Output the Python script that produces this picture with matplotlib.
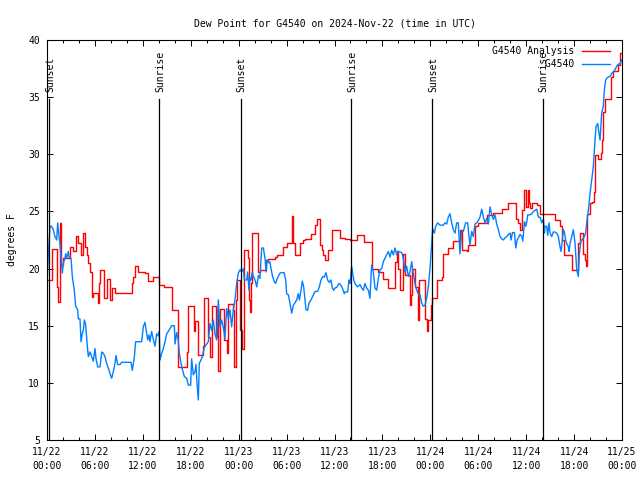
import matplotlib
matplotlib.use("Agg")
import matplotlib.pyplot as plt
import numpy as np

# hours since 2024-11-22 00:00 UTC
red_hours = [0.1, 0.58, 1.21, 1.42, 1.63, 1.75, 2.05, 2.88, 3.30, 3.59, 3.92, 4.26, 4.55, 4.76,
             4.97, 5.18, 5.38, 5.59, 5.80, 6.35, 6.5, 6.64, 7.18, 7.47, 7.89, 8.10, 8.51, 10.6,
             10.8, 11.02, 11.44, 12.27, 12.69, 13.31, 14.06, 14.6, 15.61, 16.44, 17.49, 17.70,
             18.4, 18.57, 18.87, 18.95, 19.57, 19.7, 20.2, 20.41, 20.62, 21.12, 21.24, 21.45,
             21.66, 22.16, 22.50, 22.71, 23.33, 23.46, 23.62, 23.83, 24.17, 24.46, 24.63, 24.71,
             25.13, 25.29, 25.42, 25.54, 25.71, 26.38, 26.67, 27.38, 27.71, 28.55, 28.76, 29.6,
             30.01, 30.64, 30.85, 31.05, 31.68, 32.10, 32.31, 33.1, 33.56, 33.77, 34.19, 34.4,
             34.6, 34.81, 35.23, 35.73, 36.69, 37.31, 37.94, 38.78, 39.73, 40.65, 41.49, 42.11,
             42.74, 43.58, 43.79, 44.0, 44.2, 44.62, 44.83, 45.45, 45.58, 45.66, 46.08, 46.42,
             46.5, 46.58, 47.33, 47.54, 47.75, 48.08, 48.25, 48.79, 49.42, 49.63, 50.25, 50.88,
             51.71, 51.92, 52.55, 52.76, 53.59, 54.01, 55.06, 55.90, 56.94, 57.78, 58.7, 58.94,
             59.24, 59.52, 59.79, 59.95, 60.2, 60.37, 60.49, 60.7, 61.32, 61.74, 62.36, 63.61,
             64.24, 64.53, 64.78, 65.70, 66.53, 66.74, 67.16, 67.37, 67.45, 67.58, 68.0, 68.2,
             68.5, 68.62, 68.96, 69.37, 69.54, 69.66, 69.87, 70.62, 70.91, 71.54, 71.75, 72.0]
red_dewpt = [19.0, 21.7, 18.4, 17.1, 24.0, 20.3, 20.9, 21.9, 21.5, 22.85, 22.2, 21.2, 23.1, 21.9,
             21.2, 20.5, 19.7, 17.5, 17.9, 17.0, 18.7, 19.9, 17.4, 19.1, 17.25, 18.3, 17.9, 18.7,
             19.3, 20.2, 19.7, 19.6, 18.9, 19.3, 18.6, 18.4, 16.4, 11.4, 12.7, 16.7,
             14.5, 15.4, 13.75, 12.4, 13.2, 17.4, 14.0, 12.3, 16.7, 14.0, 16.4, 11.0,
             16.5, 13.75, 12.6, 16.9, 16.4, 11.4, 17.25, 19.0, 14.6, 13.0, 17.25, 21.6,
             20.9, 17.25, 16.2, 18.7, 23.1, 19.7, 19.9, 20.75, 20.8, 21.0, 21.2, 21.9,
             22.2, 24.6, 22.2, 21.2, 22.2, 22.5, 22.55, 23.0, 23.8, 24.3, 22.1, 21.6,
             21.2, 20.75, 21.6, 23.4, 22.7, 22.6, 22.5, 22.9, 22.3, 20.0, 19.7, 19.1,
             18.3, 20.6, 21.5, 20.0, 18.1, 21.3, 19.4, 16.8, 17.7, 20.0, 18.4, 16.5,
             15.5, 19.0, 15.6, 14.5, 15.5, 16.8, 17.4, 19.0, 19.3, 21.3, 21.8, 22.4,
             23.4, 21.6, 21.5, 22.1, 23.7, 24.0, 24.7, 24.9, 25.2, 25.7, 24.3, 24.0,
             23.4, 25.1, 26.9, 25.4, 26.9, 25.7, 25.3, 25.7, 25.6, 24.8, 24.8, 24.25,
             23.7, 22.5, 21.2, 19.9, 22.2, 23.1, 21.3, 20.75, 20.2, 24.8, 25.7, 25.8,
             26.7, 29.9, 29.6, 30.1, 31.25, 33.7, 34.8, 36.8, 37.3, 37.8, 38.9, 38.9]

blue_hours = [0.0, 0.17, 0.38, 0.58, 0.79, 1.00, 1.21, 1.34, 1.50, 1.63, 1.75, 1.92, 2.05, 2.25,
              2.34, 2.46, 2.67, 2.76, 3.01, 3.17, 3.42, 3.59, 3.84, 3.92, 4.13, 4.26, 4.42, 4.55,
              4.68, 4.84, 5.05, 5.18, 5.38, 5.59, 5.80, 6.01, 6.14, 6.35, 6.64, 6.85, 7.05, 7.26,
              7.47, 7.68, 7.89, 8.10, 8.31, 8.51, 8.64, 8.85, 9.14, 9.35, 10.39, 10.52, 10.69,
              10.94, 11.10, 11.85, 12.06, 12.27, 12.61, 12.77, 12.90, 13.1, 13.31, 13.52, 13.73,
              13.94, 14.06, 14.15, 14.36, 14.57, 14.78, 14.99, 15.19, 15.40, 15.61, 15.95, 16.03,
              16.24, 16.44, 16.57, 16.78, 16.94, 17.20, 17.49, 17.70, 17.99, 18.11, 18.32, 18.53,
              18.66, 18.78, 18.95, 19.07, 19.28, 19.45, 19.70, 19.99, 20.20, 20.41, 20.62, 20.83,
              21.03, 21.24, 21.45, 21.66, 21.87, 22.08, 22.29, 22.50, 22.71, 22.92, 23.12, 23.33,
              23.54, 23.75, 23.96, 24.17, 24.38, 24.59, 24.71, 25.0, 25.13, 25.29, 25.42, 25.54,
              25.71, 25.84, 26.05, 26.26, 26.47, 26.67, 26.88, 27.09, 27.30, 27.43, 27.55, 27.71,
              27.92, 28.05, 28.22, 28.43, 28.63, 28.84, 29.18, 29.39, 29.68, 29.89, 30.01, 30.22,
              30.43, 30.64, 30.85, 31.05, 31.26, 31.47, 31.60, 31.81, 31.97, 32.14, 32.31, 32.43,
              32.64, 32.81, 33.06, 33.35, 33.56, 33.89, 34.10, 34.31, 34.52, 34.73, 34.93, 35.14,
              35.35, 35.56, 35.73, 35.90, 36.06, 36.27, 36.56, 36.81, 36.98, 37.23, 37.31, 37.65,
              37.82, 37.94, 38.15, 38.27, 38.44, 38.65, 38.90, 39.19, 39.40, 39.61, 39.82, 40.03,
              40.24, 40.44, 40.65, 40.86, 41.07, 41.28, 41.49, 41.70, 41.91, 42.11, 42.32, 42.53,
              42.74, 42.95, 43.16, 43.37, 43.58, 43.79, 44.0, 44.41, 44.62, 44.83, 45.04, 45.25,
              45.45, 45.66, 45.87, 46.08, 46.29, 46.50, 46.71, 46.92, 47.12, 47.33, 47.54, 47.75,
              47.96, 48.17, 48.29, 48.50, 48.67, 48.92, 49.21, 49.63, 49.84, 50.05, 50.25, 50.46,
              50.67, 50.88, 51.09, 51.30, 51.50, 51.71, 51.92, 52.13, 52.42, 52.67, 52.84, 52.97,
              53.18, 53.38, 53.59, 53.80, 54.01, 54.22, 54.43, 54.64, 54.85, 55.06, 55.27, 55.48,
              55.69, 55.90, 56.10, 56.31, 56.52, 56.73, 56.94, 57.15, 57.36, 57.57, 57.78, 57.99,
              58.11, 58.28, 58.53, 58.70, 58.87, 59.04, 59.24, 59.45, 59.58, 59.79, 59.95, 60.08,
              60.20, 60.49, 60.70, 60.91, 61.11, 61.32, 61.53, 61.74, 61.95, 62.16, 62.28, 62.36,
              62.57, 62.69, 62.86, 62.99, 63.20, 63.40, 63.61, 63.82, 64.03, 64.24, 64.37, 64.53,
              64.66, 64.78, 64.95, 65.07, 65.28, 65.37, 65.49, 65.70, 65.91, 66.12, 66.33, 66.53,
              66.66, 66.87, 67.03, 67.28, 67.45, 67.62, 67.79, 68.0, 68.20, 68.41, 68.62, 68.75,
              68.96, 69.12, 69.25, 69.46, 69.66, 69.79, 69.96, 70.16, 70.37, 70.58, 70.71, 70.91,
              71.12, 71.33, 71.54, 71.75, 71.96]
blue_dewpt = [18.6, 21.3, 23.7, 23.7, 23.4, 22.8, 22.5, 24.0, 22.8, 22.2, 20.9, 19.6, 20.5, 20.9,
              21.3, 20.9, 21.5, 21.0, 20.9, 19.3, 18.1, 16.7, 16.4, 15.6, 15.6, 13.6, 14.3, 14.6,
              15.5, 15.1, 13.2, 12.3, 12.7, 12.3, 11.9, 13.0, 12.1, 11.4, 11.4, 12.7, 12.6, 12.3,
              11.7, 11.3, 10.8, 10.4, 11.0, 11.7, 12.4, 11.6, 11.6, 11.8, 11.8, 11.8, 11.1,
              12.3, 13.6, 13.6, 14.9, 15.3, 13.75, 14.2, 13.6, 14.5, 13.8, 13.2, 14.3,
              14.1, 14.5, 12.0, 12.6, 13.0, 13.6, 14.3, 14.5, 14.75, 15.0, 15.0, 13.4,
              14.4, 13.7, 12.6, 11.7, 11.2, 10.55, 10.4, 9.8, 9.8, 12.1, 10.7, 11.0,
              11.6, 10.0, 8.5, 11.7, 12.0, 12.3, 13.1, 13.4, 13.6, 15.2, 14.6, 15.5,
              14.3, 13.75, 17.25, 14.9, 15.5, 14.8, 13.9, 16.5, 15.6, 16.4, 14.9, 16.4,
              17.25, 18.7, 19.6, 19.9, 19.7, 20.0, 19.0, 19.0, 19.7, 18.1, 19.15, 19.0,
              19.7, 19.3, 19.0, 18.4, 19.4, 19.15, 21.8, 21.8, 20.9, 19.7, 20.75, 20.5,
              20.6, 20.0, 19.4, 18.9, 18.7, 19.15, 19.6, 19.65, 19.65, 19.0, 17.8, 17.7,
              16.96, 16.1, 16.8, 17.0, 17.25, 17.8, 17.25, 18.1, 18.9, 18.4, 17.25, 16.4,
              16.35, 17.0, 17.25, 17.7, 18.0, 18.0, 18.4, 19.0, 19.3, 19.25, 19.65, 19.0,
              18.8, 19.0, 18.3, 18.1, 18.3, 18.35, 18.7, 18.55, 18.3, 17.8, 17.95, 17.95,
              19.0, 18.7, 20.2, 19.6, 18.9, 18.6, 18.4, 18.6, 18.3, 18.1, 18.7, 18.3,
              18.1, 17.4, 20.3, 19.7, 18.3, 18.1, 19.15, 19.9, 20.0, 20.6, 20.9, 21.2,
              21.5, 21.0, 21.6, 21.2, 21.8, 21.2, 21.5, 21.4, 20.9, 19.7, 20.2, 19.3,
              19.7, 20.6, 19.6, 18.7, 18.1, 17.8, 17.7, 17.0, 16.7, 16.8, 17.4, 18.4,
              20.0, 22.2, 23.5, 23.1, 23.7, 24.0, 23.8, 23.8, 24.0, 23.9, 24.5, 24.8,
              24.0, 23.4, 23.1, 24.0, 24.0, 21.3, 23.25, 23.25, 24.0, 24.0, 22.8, 22.1,
              23.25, 22.8, 23.9, 24.0, 24.2, 24.5, 25.2, 24.5, 24.0, 24.4, 23.9, 25.4,
              24.7, 24.3, 24.7, 23.9, 23.4, 22.8, 22.6, 22.5, 22.7, 22.8, 23.0, 23.1,
              22.5, 23.15, 23.15, 21.8, 22.5, 22.7, 23.0, 22.8, 22.4, 24.1, 23.7, 24.1,
              24.7, 24.7, 24.8, 25.0, 25.1, 25.2, 24.5, 24.5, 24.0, 24.3, 23.1, 23.7,
              23.7, 22.9, 24.0, 23.1, 22.8, 23.2, 23.2, 23.1, 22.8, 21.9, 21.5, 22.5,
              23.4, 23.2, 22.5, 22.2, 21.9, 21.5, 22.2, 22.8, 23.4, 22.2, 19.9, 19.3,
              21.3, 22.5, 22.5, 22.8, 23.1, 24.25, 25.1, 26.6, 27.75, 28.9, 31.25, 32.4,
              32.7, 31.8, 31.25, 33.6, 34.2, 35.6, 36.5, 36.7, 36.8, 36.85, 37.1, 37.2,
              37.4, 37.7, 37.9, 37.9, 38.25]

sun_hours = [0.29, 14.05, 24.24, 38.08, 48.22, 62.1]
sun_labels = ["Sunset", "Sunrise", "Sunset", "Sunrise", "Sunset", "Sunrise"]

tick_hours = list(range(0, 73, 6))
tick_labels = ["11/22\n00:00", "11/22\n06:00", "11/22\n12:00", "11/22\n18:00",
               "11/23\n00:00", "11/23\n06:00", "11/23\n12:00", "11/23\n18:00",
               "11/24\n00:00", "11/24\n06:00", "11/24\n12:00", "11/24\n18:00",
               "11/25\n00:00"]

plt.rcParams['font.family'] = ['DejaVu Sans Mono']
plt.rcParams['font.size'] = 7

fig = plt.figure(figsize=(6.4, 4.8), dpi=100)
ax = fig.add_axes([47/640, 40/480, 575/640, 400/480])

ax.step(red_hours, red_dewpt, where='post', color='#ff0000', lw=1.0,
        label='G4540 Analysis')
ax.plot(blue_hours, blue_dewpt, color='#0080ff', lw=1.0, label='         G4540')

for h, lab in zip(sun_hours, sun_labels):
    ax.plot([h, h], [5, 34.85], color='black', lw=0.9)
    ax.text(h + 0.1, 35.45, lab, rotation=90, ha='center', va='bottom', fontsize=7)

ax.set_xlim(0, 72)
ax.set_ylim(5, 40)
ax.set_xticks(tick_hours)
ax.set_xticklabels(tick_labels, linespacing=1.5)
ax.set_xticks(range(0, 73, 2), minor=True)
ax.set_yticks(range(5, 41, 5))
ax.tick_params(which='both', direction='in', top=True, right=True, width=0.7)
ax.tick_params(which='major', length=4, pad=5)
ax.tick_params(which='minor', length=2.5)
for s in ax.spines.values():
    s.set_linewidth(0.8)

ax.set_title('Dew Point for G4540 on 2024-Nov-22 (time in UTC)', fontsize=7, pad=10)
ax.set_ylabel('degrees F')
ax.yaxis.set_label_coords(-0.053, 0.5)

ax.legend(loc='upper right', bbox_to_anchor=(1 - 12/575, 1 - 6/400), frameon=False,
          markerfirst=False, handlelength=2.9, handletextpad=0.8, labelspacing=0.3,
          borderpad=0, borderaxespad=0, fontsize=7)

fig.savefig('out.png', dpi=100)
